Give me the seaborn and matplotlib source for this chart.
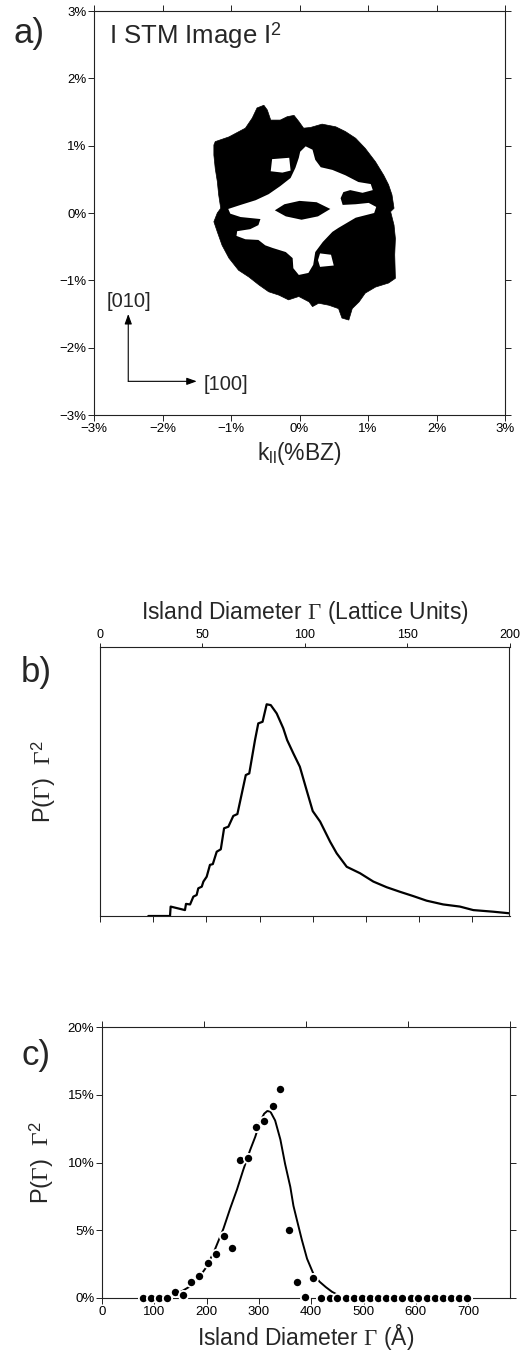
import numpy as np
import pandas as pd
import matplotlib
matplotlib.use("Agg")
import matplotlib.pyplot as plt
import seaborn as sns

sns.set_theme(style="white")
plt.rcParams['font.family'] = ['Liberation Sans', 'DejaVu Sans']
plt.rcParams['mathtext.fontset'] = 'custom'
plt.rcParams['mathtext.rm'] = 'Liberation Serif'
plt.rcParams['mathtext.it'] = 'Liberation Serif:italic'
plt.rcParams['mathtext.sf'] = 'Liberation Sans'

# ---------------- panel a: thresholded |FFT|^2 of STM image (k in %BZ) -------------
ring_kx = [-1.25, -1.23, -1.03, -0.79, -0.69, -0.62, -0.52, -0.47, -0.42, -0.28, -0.18, -0.08,
           -0.01, 0.06, 0.16, 0.33, 0.53, 0.67, 0.82, 0.96, 1.11, 1.23, 1.30, 1.35, 1.38, 1.33,
           1.38, 1.40, 1.39, 1.40, 1.30, 1.11, 0.96, 0.87, 0.77, 0.72, 0.62, 0.57, 0.43, 0.28,
           0.19, 0.14, -0.01, -0.16, -0.30, -0.45, -0.59, -0.74, -0.89, -1.03, -1.13, -1.20,
           -1.25, -1.20, -1.15, -1.18, -1.20, -1.23, -1.25]
ring_ky = [1.01, 1.06, 1.13, 1.26, 1.41, 1.56, 1.60, 1.53, 1.38, 1.38, 1.43, 1.45,
           1.36, 1.26, 1.27, 1.32, 1.28, 1.21, 1.11, 0.96, 0.76, 0.56, 0.42, 0.27, 0.07, 0.02,
           -0.18, -0.38, -0.62, -0.97, -1.04, -1.10, -1.19, -1.32, -1.42, -1.59, -1.56, -1.42,
           -1.37, -1.34, -1.39, -1.32, -1.24, -1.29, -1.22, -1.17, -1.07, -0.95, -0.85, -0.67,
           -0.48, -0.28, -0.13, 0.00, 0.07, 0.27, 0.47, 0.66, 0.86]

hole_kx = [0.01, 0.09, 0.19, 0.23, 0.31, 0.48, 0.67, 0.86, 1.04, 1.07, 0.92, 0.74, 0.64, 0.60,
           0.63, 0.82, 1.01, 1.12, 1.09, 0.82, 0.57, 0.48, 0.34, 0.23, 0.20, 0.13, -0.01, -0.09,
           -0.10, -0.20, -0.39, -0.50, -0.60, -0.79, -0.92, -0.91, -0.72, -0.60, -0.57, -0.86,
           -1.01, -1.04, -0.86, -0.64, -0.45, -0.28, -0.13, -0.06, -0.01]
hole_ky = [0.91, 0.99, 0.94, 0.79, 0.68, 0.64, 0.56, 0.46, 0.43, 0.34, 0.30, 0.34, 0.31, 0.22,
           0.12, 0.13, 0.15, 0.09, 0.00, -0.07, -0.22, -0.28, -0.43, -0.58, -0.77, -0.89, -0.92,
           -0.82, -0.67, -0.58, -0.52, -0.48, -0.40, -0.39, -0.34, -0.27, -0.24, -0.18, -0.09,
           -0.06, -0.01, 0.06, 0.12, 0.19, 0.28, 0.40, 0.52, 0.67, 0.82]

core_kx = [-0.36, -0.22, 0.00, 0.25, 0.45, 0.27, 0.03, -0.20]
core_ky = [0.04, 0.13, 0.18, 0.16, 0.06, -0.05, -0.10, -0.05]

gap1_kx = [-0.40, -0.15, -0.13, -0.25, -0.42]
gap1_ky = [0.80, 0.82, 0.63, 0.60, 0.62]
gap2_kx = [0.30, 0.46, 0.50, 0.30, 0.27]
gap2_ky = [-0.60, -0.62, -0.78, -0.80, -0.70]

a_ticks = [-3, -2, -1, 0, 1, 2, 3]
a_labels = ["\u22123%", "\u22122%", "\u22121%", "0%", "1%", "2%", "3%"]

# ---------------- panel b: P(G) G^2 vs island diameter (lattice units) ----------------
b_gamma = [23.6, 34.2, 34.5, 41.5, 42.0, 44.0, 45.6, 47.2, 48.0, 49.7, 50.5, 52.1, 53.7, 55.1,
           57.0, 59.0, 60.6, 62.7, 65.1, 67.1, 71.2, 72.9, 75.7, 77.3, 79.4, 81.4, 83.4, 86.3,
           89.5, 91.4, 94.4, 97.6, 100.9, 103.9, 107.5, 112.4, 115.6, 120.5, 127.0, 133.5,
           140.0, 146.5, 153.0, 159.5, 167.6, 175.8, 182.3, 192.0, 200.0]
b_pg2 = [0.0, 0.0, 0.035, 0.022, 0.045, 0.043, 0.072, 0.078, 0.103, 0.109, 0.128, 0.146, 0.19,
         0.193, 0.239, 0.248, 0.326, 0.332, 0.372, 0.379, 0.524, 0.53, 0.654, 0.716, 0.722,
         0.787, 0.784, 0.753, 0.698, 0.654, 0.605, 0.555, 0.468, 0.39, 0.351, 0.276, 0.233,
         0.183, 0.159, 0.128, 0.107, 0.09, 0.074, 0.057, 0.043, 0.035, 0.022, 0.016, 0.01]
b_top_ticks = [0, 50, 100, 150, 200]
ang_per_lu = 3.9

# ---------------- panel c: P(G) G^2 vs island diameter (Angstrom) ----------------------
c_pts_x = [78, 93, 109, 124, 140, 155, 171, 186, 202, 217, 233, 248, 264, 279, 295, 310, 326,
           341, 357, 372, 388, 404, 419, 435, 450, 466, 481, 497, 512, 528, 543, 559, 574, 590,
           605, 621, 636, 652, 667, 683, 698]
c_pts_y = [0, 0, 0, 0, 0.45, 0.2, 1.15, 1.65, 2.6, 3.25, 4.6, 3.7, 10.15, 10.35, 12.6, 13.05,
           14.2, 15.4, 5.05, 1.2, 0.05, 1.45, 0, 0, 0, 0, 0, 0, 0, 0, 0, 0, 0, 0, 0, 0, 0, 0,
           0, 0, 0]
c_fit_x = [110, 125, 140, 155, 170, 185, 200, 215, 232, 245, 258, 270, 283, 293, 302, 310, 316,
           322, 331, 341, 350, 360, 366, 373, 382, 392, 404, 416, 428, 440, 455, 470]
c_fit_y = [0, 0.1, 0.3, 0.55, 0.9, 1.5, 2.3, 3.5, 5.1, 6.6, 8.0, 9.45, 10.9, 11.9, 13.0, 13.6,
           13.8, 13.75, 13.1, 11.7, 9.9, 8.2, 6.8, 5.7, 4.3, 2.9, 1.8, 1.2, 0.8, 0.45, 0.15, 0]
c_yticks = [0, 5, 10, 15, 20]
c_ylabels = ["0%", "5%", "10%", "15%", "20%"]
c_xticks = [0, 100, 200, 300, 400, 500, 600, 700]

# ======================================================================================
fig = plt.figure(figsize=(5.28, 13.54), dpi=100)
fig.patch.set_facecolor("white")

spine_kw = dict(color="#222222", linewidth=0.8)
tick_kw = dict(direction="out", length=4, width=0.7, color="#222222", labelsize=9.5,
               labelcolor="black", pad=1.5)

# ---------------- panel a ----------------
axa = fig.add_axes([94 / 528, 1 - 415 / 1354, 411 / 528, 404 / 1354])
axa.fill(ring_kx, ring_ky, color="black", lw=0.5, ec="black")
axa.fill(hole_kx, hole_ky, color="white", lw=0)
axa.fill(core_kx, core_ky, color="black", lw=0)
axa.fill(gap1_kx, gap1_ky, color="white", lw=0)
axa.fill(gap2_kx, gap2_ky, color="white", lw=0)
axa.set_xlim(-3, 3)
axa.set_ylim(-3, 3)
axa.set_xticks(a_ticks)
axa.set_xticklabels(a_labels)
axa.set_yticks(a_ticks)
axa.set_yticklabels(a_labels)
axa.tick_params(top=True, right=True, bottom=True, left=True, **tick_kw)
for s in axa.spines.values():
    s.set(**spine_kw)
axa.set_xlabel(r"k$_{\mathsf{ll}}$(%BZ)", fontsize=16.5, labelpad=4)
axa.text(-2.78, 2.64, r"I STM Image I$^{\mathsf{2}}$", fontsize=18.5, ha="left", va="center")
arrow_kw = dict(arrowstyle="-|>,head_length=0.5,head_width=0.18", lw=0.8, color="black",
                shrinkA=0, shrinkB=0)
axa.annotate("", xy=(-2.5, -1.5), xytext=(-2.5, -2.5), arrowprops=arrow_kw)
axa.annotate("", xy=(-1.5, -2.5), xytext=(-2.5, -2.5), arrowprops=arrow_kw)
axa.text(-2.49, -1.31, "[010]", fontsize=14.5, ha="center", va="center")
axa.text(-1.40, -2.54, "[100]", fontsize=14.5, ha="left", va="center")
fig.text(29 / 528, 1 - 33 / 1354, "a)", fontsize=25, ha="center", va="center")

# ---------------- panel b ----------------
axb = fig.add_axes([100 / 528, 1 - 916 / 1354, 409.5 / 528, 269 / 1354])
dfb = pd.DataFrame({"gamma": b_gamma, "pg2": b_pg2})
sns.lineplot(data=dfb, x="gamma", y="pg2", ax=axb, color="black", lw=1.6,
             estimator=None, sort=False)
axb.set_xlim(0, 200)
axb.set_ylim(0, 1)
axb.set_xlabel("")
axb.set_ylabel(r"P($\Gamma$)  $\Gamma^{\mathsf{2}}$", fontsize=17, labelpad=30)
axb.set_yticks([])
axb.xaxis.set_ticks_position("top")
axb.xaxis.set_label_position("top")
axb.set_xticks(b_top_ticks)
axb.set_xticklabels([str(t) for t in b_top_ticks])
axb.tick_params(axis="x", top=True, bottom=False, labeltop=True, labelbottom=False,
                **{**tick_kw, "labelsize": 9, "length": 3})
sec = axb.secondary_xaxis("bottom")
sec.set_xticks(list(np.arange(0, 200, 100 / 3.85)))
sec.set_xticklabels([])
sec.tick_params(direction="out", length=4, width=0.7, color="#222222")
sec.spines["bottom"].set_visible(False)
for s in axb.spines.values():
    s.set(**spine_kw)
axb.set_title(r"Island Diameter $\Gamma$ (Lattice Units)", fontsize=16.5, pad=20)
fig.text(36 / 528, 1 - 672 / 1354, "b)", fontsize=25, ha="center", va="center")

# ---------------- panel c ----------------
axc = fig.add_axes([102 / 528, 1 - 1298 / 1354, 408 / 528, 271 / 1354])
dff = pd.DataFrame({"d": c_fit_x, "p": c_fit_y})
dfp = pd.DataFrame({"d": c_pts_x, "p": c_pts_y})
sns.lineplot(data=dff, x="d", y="p", ax=axc, color="black", lw=1.4, estimator=None,
             sort=False, zorder=2)
sns.scatterplot(data=dfp, x="d", y="p", ax=axc, color="black", s=44, edgecolor="white",
                linewidth=1.3, zorder=3, clip_on=False)
axc.set_xlim(0, 200 * ang_per_lu)
axc.set_ylim(0, 20)
axc.set_yticks(c_yticks)
axc.set_yticklabels(c_ylabels)
axc.set_xticks(c_xticks)
axc.set_xticklabels([str(t) for t in c_xticks])
axc.tick_params(left=True, right=True, bottom=True, top=False, **tick_kw)
secc = axc.secondary_xaxis("top", functions=(lambda a: a / ang_per_lu, lambda l: l * ang_per_lu))
secc.set_xticks(b_top_ticks)
secc.set_xticklabels([])
secc.tick_params(direction="out", length=4, width=0.7, color="#222222")
secc.spines["top"].set_visible(False)
for s in axc.spines.values():
    s.set(**spine_kw)
axc.set_xlabel(r"Island Diameter $\Gamma$ ($\mathsf{\AA}$)", fontsize=16.5, labelpad=3)
axc.set_ylabel(r"P($\Gamma$)  $\Gamma^{\mathsf{2}}$", fontsize=17, labelpad=8)
fig.text(36 / 528, 1 - 1056 / 1354, "c)", fontsize=25, ha="center", va="center")

fig.savefig("out.png", dpi=100, facecolor="white")
